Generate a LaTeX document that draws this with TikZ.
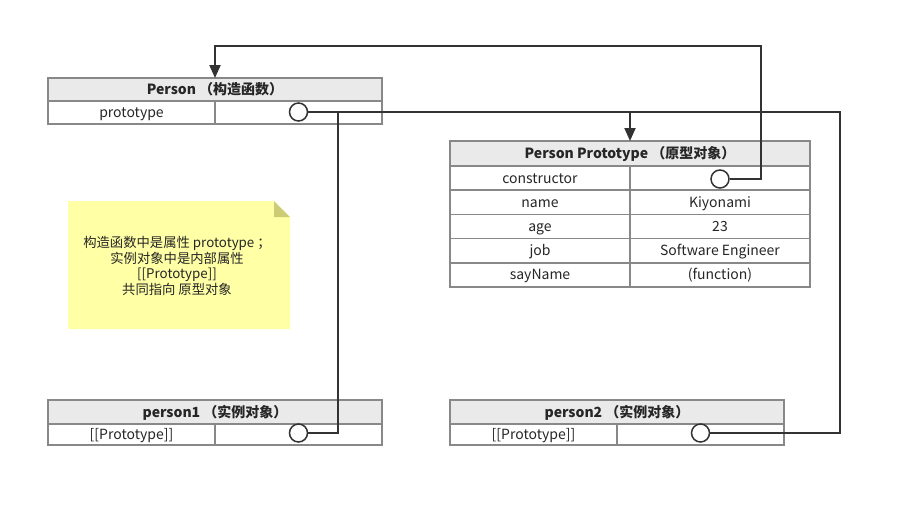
\documentclass[tikz,border=0pt]{standalone}
\usepackage{fontspec}
\setmainfont{Noto Sans CJK SC}
\usetikzlibrary{arrows.meta}
\newcommand{\pxu}{0.75pt}
\definecolor{cellline}{HTML}{888888}
\definecolor{headfill}{HTML}{EAEAEA}
\definecolor{wire}{HTML}{333333}
\definecolor{notefill}{HTML}{FFFFA5}
\definecolor{notefold}{HTML}{CCCC77}
\begin{document}
\begin{tikzpicture}[x=0.75pt,y=-0.75pt,
			cell/.style={rectangle, draw=cellline, fill=white, line width=1.5*\pxu, inner sep=0pt, outer sep=0pt, text height=8pt, text depth=0.5pt, font=\fontsize{10.5}{12}\selectfont, text=black!85},
			headcell/.style={cell, fill=headfill, font=\fontsize{10.5}{12}\selectfont\bfseries},
			ref/.style={circle, draw=wire, fill=white, line width=1.5*\pxu, minimum size=18*\pxu, inner sep=0pt},
			wireline/.style={draw=wire, line width=2*\pxu},
			tip/.style={-{Triangle[length=13*\pxu,width=11*\pxu]}},
			]
\useasboundingbox (0,0) rectangle (902,508);

\node[headcell, minimum width=334*\pxu, minimum height=23*\pxu] (personhead) at (215,89.5) {Person （构造函数）};
\node[cell, minimum width=167*\pxu, minimum height=23*\pxu] (personkey) at (131.5,112.5) {prototype};
\node[cell, minimum width=167*\pxu, minimum height=23*\pxu] (personval) at (298.5,112.5) {};
\node[ref] (personref) at (298.5,112) {};

\node[headcell, minimum width=360*\pxu, minimum height=25*\pxu] (protohead) at (630,153.5) {Person Prototype （原型对象）};
\node[cell, minimum width=180*\pxu, minimum height=24.2*\pxu] (ctorkey) at (540,178.1) {constructor};
\node[cell, minimum width=180*\pxu, minimum height=24.2*\pxu] (ctorval) at (720,178.1) {};
\node[ref] (ctorref) at (720,179) {};
\node[cell, minimum width=180*\pxu, minimum height=24.2*\pxu] (namekey) at (540,202.3) {name};
\node[cell, minimum width=180*\pxu, minimum height=24.2*\pxu] (nameval) at (720,202.3) {Kiyonami};
\node[cell, minimum width=180*\pxu, minimum height=24.2*\pxu] (agekey) at (540,226.5) {age};
\node[cell, minimum width=180*\pxu, minimum height=24.2*\pxu] (ageval) at (720,226.5) {23};
\node[cell, minimum width=180*\pxu, minimum height=24.2*\pxu] (jobkey) at (540,250.7) {job};
\node[cell, minimum width=180*\pxu, minimum height=24.2*\pxu] (jobval) at (720,250.7) {Software Engineer};
\node[cell, minimum width=180*\pxu, minimum height=24.2*\pxu] (saykey) at (540,274.9) {sayName};
\node[cell, minimum width=180*\pxu, minimum height=24.2*\pxu] (sayval) at (720,274.9) {(function)};

\node[headcell, minimum width=334*\pxu, minimum height=24*\pxu] (p1head) at (215,412) {person1 （实例对象）};
\node[cell, minimum width=167*\pxu, minimum height=21*\pxu] (p1key) at (131.5,434.5) {[[Prototype]]};
\node[cell, minimum width=167*\pxu, minimum height=21*\pxu] (p1val) at (298.5,434.5) {};
\node[ref] (p1ref) at (298.5,433) {};

\node[headcell, minimum width=334*\pxu, minimum height=24*\pxu] (p2head) at (617,412) {person2 （实例对象）};
\node[cell, minimum width=167*\pxu, minimum height=21*\pxu] (p2key) at (533.5,434.5) {[[Prototype]]};
\node[cell, minimum width=167*\pxu, minimum height=21*\pxu] (p2val) at (700.5,434.5) {};
\node[ref] (p2ref) at (700.5,433) {};

\fill[notefill] (68,201) -- (274,201) -- (290,217) -- (290,329) -- (68,329) -- cycle;
\fill[notefold] (274,201) -- (290,217) -- (274,217) -- cycle;
\node[align=center, font=\fontsize{10}{11.8}\selectfont, text=black!85] (note) at (177,266) {构造函数中是属性 prototype ；\\实例对象中是内部属性\\{}[[Prototype]]\\共同指向 原型对象};

\coordinate (merge) at (630,112);
\draw[wireline] (personref.east) -- (merge);
\draw[wireline] (p1ref.east) -| (338,112) -- (merge);
\draw[wireline] (p2ref.east) -| (840,112) -- (merge);
\draw[wireline, tip] (merge) -- (protohead.north);
\draw[wireline, tip] (ctorref.east) -| (761,46) -| (personhead.north);

\end{tikzpicture}
\end{document}
